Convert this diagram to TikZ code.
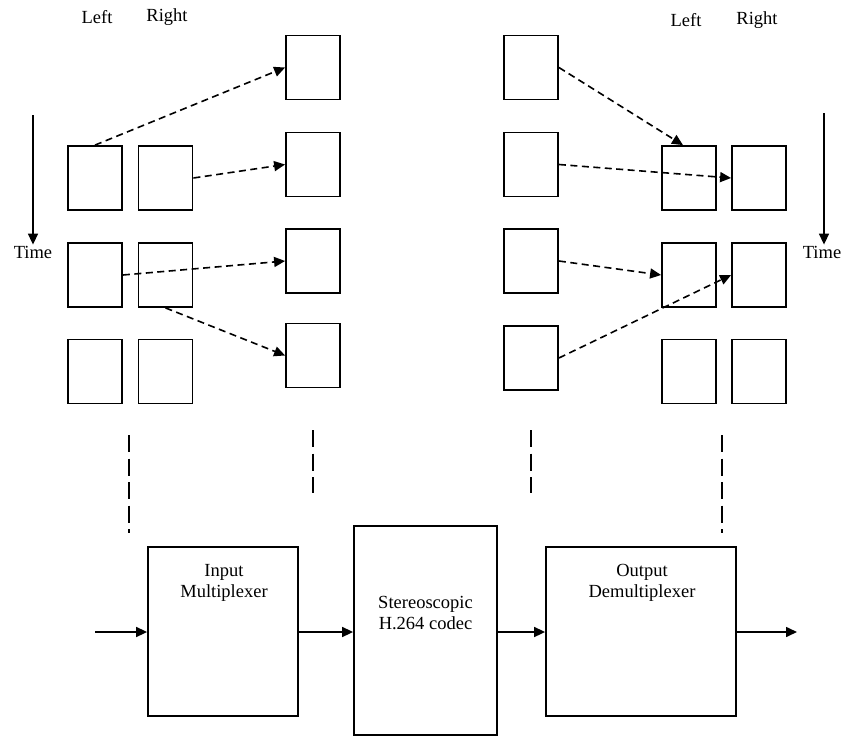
\documentclass[tikz,border=0pt]{standalone}
\usepackage{fontspec}
\setmainfont{Liberation Serif}
\usetikzlibrary{arrows.meta,calc}
\begin{document}
\begin{tikzpicture}[x=1pt,y=-1pt,
  frame/.style={draw, line width=1.8pt, inner sep=0pt, minimum width=54pt, minimum height=64pt},
  bigbox/.style={draw, line width=1.8pt, inner sep=0pt},
  lbl/.style={font=\fontsize{18.5}{21}\selectfont, inner sep=1pt, align=center},
  dasharrow/.style={line width=1.6pt, dash pattern=on 7pt off 4.5pt, -{Triangle[length=11pt,width=10pt]}},
  solidarrow/.style={line width=1.6pt, -{Triangle[length=11pt,width=10pt]}},
  vdash/.style={line width=1.6pt, dash pattern=on 17pt off 6.5pt}]
\useasboundingbox (0,0) rectangle (844,737);
% labels
\node[lbl] (lLeft) at (97,17) {Left};
\node[lbl] (lRight) at (167,17) {Right};
\node[lbl] (rLeft) at (686,20) {Left};
\node[lbl] (rRight) at (757,20) {Right};
\node[lbl] (timeL) at (33,252) {Time};
\node[lbl] (timeR) at (822,252) {Time};
\coordinate (timeLtop) at (33,115);
\coordinate (timeRtop) at (824,113);
\draw[solidarrow] (timeLtop) -- (timeLtop |- timeL.north);
\draw[solidarrow] (timeRtop) -- (timeRtop |- timeR.north);
% left pairs
\node[frame] (L1) at (95,178) {};
\node[frame] (L2) at (95,275) {};
\node[frame] (L3) at (95,371.5) {};
\node[frame] (R1) at (165.5,178) {};
\node[frame] (R2) at (165.5,275) {};
\node[frame] (R3) at (165.5,371.5) {};
% middle left
\node[frame] (M1) at (313,67.5) {};
\node[frame] (M2) at (313,164.5) {};
\node[frame] (M3) at (313,261) {};
\node[frame] (M4) at (313,355.5) {};
% middle right
\node[frame] (N1) at (531,67.5) {};
\node[frame] (N2) at (531,164.5) {};
\node[frame] (N3) at (531,261) {};
\node[frame] (N4) at (531,358) {};
% right pairs
\node[frame] (P1) at (689,178) {};
\node[frame] (P2) at (689,275) {};
\node[frame] (P3) at (689,371.5) {};
\node[frame] (Q1) at (759,178) {};
\node[frame] (Q2) at (759,275) {};
\node[frame] (Q3) at (759,371.5) {};
% dashed arrows left
\draw[dasharrow] (L1.north) -- (M1.west);
\draw[dasharrow] (R1.east) -- (M2.west);
\draw[dasharrow] (L2.east) -- (M3.west);
\draw[dasharrow] (R2.south) -- (M4.west);
% dashed arrows right
\draw[dasharrow] (N1.east) -- ([xshift=-6pt]P1.north);
\draw[dasharrow] (N2.east) -- (Q1.west);
\draw[dasharrow] (N3.east) -- (P2.west);
\draw[dasharrow] (N4.east) -- (Q2.west);
% vertical dashed lines
\coordinate (v1a) at (129,435); \coordinate (v1b) at (129,533);
\coordinate (v2a) at (313,430); \coordinate (v2b) at (313,493);
\coordinate (v3a) at (531,430); \coordinate (v3b) at (531,493);
\coordinate (v4a) at (722,435); \coordinate (v4b) at (722,533);
\draw[vdash] (v1a) -- (v1b);
\draw[vdash] (v2a) -- (v2b);
\draw[vdash] (v3a) -- (v3b);
\draw[vdash] (v4a) -- (v4b);
% bottom blocks
\node[bigbox, minimum width=150pt, minimum height=169pt] (mux) at (223,631.5) {};
\node[bigbox, minimum width=143pt, minimum height=209pt] (codec) at (425.5,630.5) {};
\node[bigbox, minimum width=190pt, minimum height=169pt] (demux) at (641,631.5) {};
\node[lbl] (muxtxt) at (224,583) {Input\\Multiplexer};
\node[lbl] (codectxt) at (425.5,613) {Stereoscopic\\H.264 codec};
\node[lbl] (demuxtxt) at (642,583) {Output\\Demultiplexer};
\coordinate (inp) at (95,632);
\coordinate (outp) at (797,632);
\draw[solidarrow] (inp) -- (inp -| mux.west);
\draw[solidarrow] (inp -| mux.east) -- (inp -| codec.west);
\draw[solidarrow] (inp -| codec.east) -- (inp -| demux.west);
\draw[solidarrow] (inp -| demux.east) -- (outp);
\end{tikzpicture}
\end{document}
